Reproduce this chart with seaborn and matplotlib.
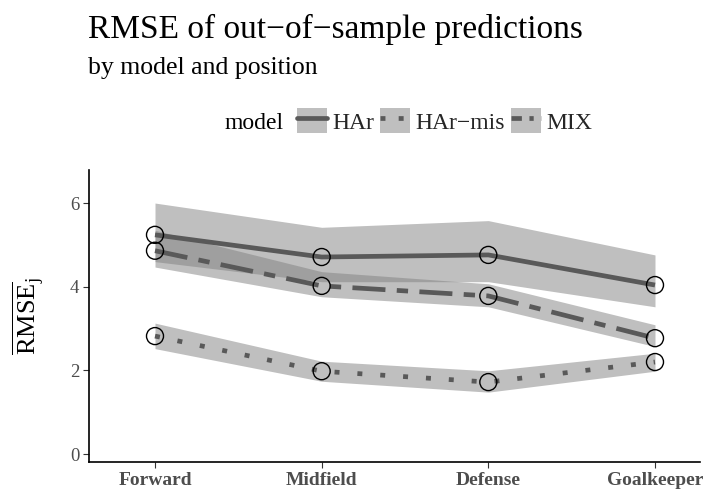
import numpy as np
import pandas as pd
import matplotlib
matplotlib.use("Agg")
import matplotlib.pyplot as plt
from matplotlib.lines import Line2D
from matplotlib.patches import Patch
import seaborn as sns

# ---- data -------------------------------------------------------------
positions = ["Forward", "Midfield", "Defense", "Goalkeeper"]
models = ["HAr", "HAr\u2212mis", "MIX"]

har_mean = [5.24, 4.71, 4.76, 4.04]
har_lo = [4.60, 4.12, 4.12, 3.52]
har_hi = [6.00, 5.42, 5.58, 4.76]

harmis_mean = [2.82, 1.98, 1.72, 2.20]
harmis_lo = [2.52, 1.74, 1.48, 1.98]
harmis_hi = [3.13, 2.22, 1.99, 2.41]

mix_mean = [4.86, 4.02, 3.78, 2.77]
mix_lo = [4.47, 3.76, 3.52, 2.57]
mix_hi = [5.35, 4.36, 4.07, 3.09]

y_ticks = [0, 2, 4, 6]

# ---- style ------------------------------------------------------------
sns.set_theme(style="ticks")
plt.rcParams["font.family"] = ["Liberation Serif", "DejaVu Serif"]
plt.rcParams["mathtext.fontset"] = "custom"
plt.rcParams["mathtext.rm"] = "Liberation Serif"
plt.rcParams["mathtext.it"] = "Liberation Serif:italic"

LINE_COL = "#595959"
BAND_COL = "#808080"
TEXT_COL = "#4d4d4d"
LW = 3.4
dash_styles = {
    "HAr": "",
    "HAr\u2212mis": (1.05, 3.8),
    "MIX": (7.0, 2.4, 2.4, 2.4),
}
key_dashes = {
    "HAr": None,
    "HAr\u2212mis": (1.05, 2.8),
    "MIX": (2.2, 1.6, 0.9, 1.6),
}

rows = []
for m, mean, lo, hi in [
    ("HAr", har_mean, har_lo, har_hi),
    ("HAr\u2212mis", harmis_mean, harmis_lo, harmis_hi),
    ("MIX", mix_mean, mix_lo, mix_hi),
]:
    for i, p in enumerate(positions):
        rows.append({"model": m, "position": p, "x": i,
                     "rmse": mean[i], "lo": lo[i], "hi": hi[i]})
df = pd.DataFrame(rows)

fig = plt.figure(figsize=(7.15, 4.95), dpi=100)
ax = fig.add_axes([89 / 715, 33 / 495, 611 / 715, 292 / 495])

# confidence ribbons
for m in models:
    d = df[df["model"] == m]
    ax.fill_between(d["x"], d["lo"], d["hi"], color=BAND_COL, alpha=0.5,
                    linewidth=0, zorder=1)

# model lines
sns.lineplot(data=df, x="x", y="rmse", hue="model", style="model",
             palette={m: LINE_COL for m in models}, dashes=dash_styles,
             linewidth=LW, errorbar=None, legend=False, ax=ax, zorder=3)
for ln in ax.lines:
    ln.set_dash_capstyle("butt")
    ln.set_solid_capstyle("butt")

# observed points as open circles
sns.scatterplot(data=df, x="x", y="rmse", s=150, color="black",
                edgecolor="black", linewidth=1.0, legend=False, ax=ax, zorder=5)
ax.collections[-1].set_facecolor("none")

# ---- axes -------------------------------------------------------------
ax.set_xlim(-0.396, 3.27)
ax.set_ylim(-0.19, 6.79)
ax.set_xticks(range(len(positions)))
ax.set_xticklabels(positions, fontsize=14, fontweight="bold", color=TEXT_COL)
ax.set_yticks(y_ticks)
ax.set_yticklabels([str(v) for v in y_ticks], fontsize=13.5, color=TEXT_COL)
ax.tick_params(axis="both", length=4, width=0.8, color="#333333", pad=3)
ax.set_xlabel("")
ax.set_ylabel("")
for s in ["top", "right"]:
    ax.spines[s].set_visible(False)
for s in ["left", "bottom"]:
    ax.spines[s].set_linewidth(1.2)
    ax.spines[s].set_color("black")

fig.text(28 / 715, 1 - 316 / 495, r"$\overline{\mathrm{RMSE}}_{\mathrm{j}}$",
         rotation=90, ha="center", va="center", fontsize=19, color="black")

# ---- titles -----------------------------------------------------------
fig.text(88 / 715, 1 - 38 / 495, "RMSE of out\u2212of\u2212sample predictions",
         fontsize=24, ha="left", va="baseline", color="black")
fig.text(88 / 715, 1 - 74 / 495, "by model and position",
         fontsize=18.5, ha="left", va="baseline", color="black")

# ---- legend -----------------------------------------------------------
handles = []
for m in models:
    patch = Patch(facecolor=BAND_COL, alpha=0.5, edgecolor="none")
    kw = {} if key_dashes[m] is None else {"dashes": key_dashes[m]}
    line = Line2D([], [], color=LINE_COL, linewidth=LW, dash_capstyle="butt", **kw)
    handles.append((patch, line))
leg = fig.legend(handles, models, loc="center left",
                 bbox_to_anchor=(297 / 715, 1 - 121 / 495), ncol=3,
                 frameon=False, fontsize=17, handlelength=1.25,
                 handleheight=1.25, handletextpad=0.25, columnspacing=0.25,
                 borderpad=0, borderaxespad=0)
fig.text(284 / 715, 1 - 123.5 / 495, "model", fontsize=17, ha="right",
         va="center", color="black")

fig.savefig("out.png", dpi=100)
